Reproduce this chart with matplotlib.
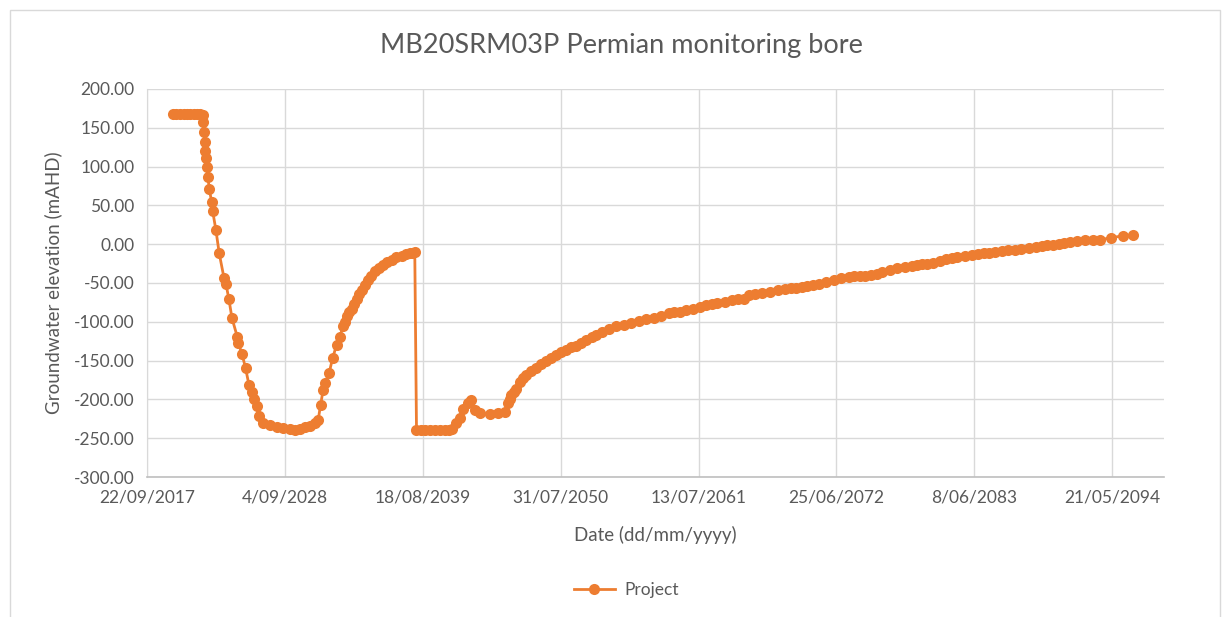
import matplotlib
matplotlib.use("Agg")
import matplotlib.pyplot as plt
import pandas as pd
from matplotlib.patches import Rectangle

# Modelled groundwater levels, dates as Excel serial day numbers
date_serial = [
    43754, 43850, 43957, 44060, 44159, 44260, 44362, 44450, 44536, 44623,
    44632, 44652, 44681, 44696, 44710, 44748, 44768, 44806, 44875, 44904,
    45000, 45096, 45232, 45290, 45377, 45464, 45617, 45646, 45754, 45861,
    45957, 46035, 46110, 46180, 46255, 46371, 46565, 46759, 46942, 47145,
    47290, 47435, 47580, 47725, 47870, 47965, 48035, 48110, 48160, 48284,
    48383, 48499, 48594, 48690, 48750, 48806, 48870, 48933, 49000, 49078,
    49150, 49223, 49320, 49415, 49500, 49609, 49720, 49849, 49970, 50093,
    50230, 50383, 50500, 50623, 50700, 50768, 50818, 50950, 51058, 51200,
    51348, 51500, 51638, 51750, 51841, 51977, 52073, 52168, 52313, 52412,
    52507, 52652, 52942, 53183, 53377, 53473, 53520, 53571, 53650, 53716,
    53812, 53900, 54006, 54150, 54296, 54440, 54586, 54730, 54876, 55020,
    55165, 55300, 55455, 55600, 55745, 55900, 56035, 56200, 56389, 56600,
    56823, 57040, 57261, 57480, 57696, 57910, 58131, 58290, 58455, 58650,
    58838, 59030, 59218, 59380, 59545, 59760, 59980, 60140, 60308, 60470,
    60632, 60850, 61067, 61290, 61505, 61670, 61829, 61990, 62157, 62320,
    62481, 62700, 62916, 63130, 63351, 63510, 63678, 63840, 64003, 64170,
    64331, 64550, 64766, 64980, 65200, 65340, 65473, 65640, 65800, 65990,
    66183, 66350, 66508, 66720, 66942, 67100, 67270, 67430, 67597, 67790,
    67980, 68170, 68360, 68580, 68795, 68960, 69122, 69290, 69450, 69610,
    69775, 69990, 70212, 70430, 70647, 70971, 71299, 71603,
]
elevation = [
    168, 168, 168, 168, 168, 168, 168, 168, 168, 167,
    158, 145, 132, 120, 111, 100, 87, 71, 55, 43,
    18, -12, -43, -51, -71, -95, -119, -127, -141, -160,
    -181, -190, -199, -209, -222, -231, -233, -235, -237, -238.5,
    -239, -238, -236, -234, -230, -227, -207, -188, -179, -166,
    -147, -130, -119, -106, -100, -93, -88, -83, -77, -70,
    -64, -59, -52, -46, -41, -35, -31, -27, -23, -20,
    -17, -15, -13, -12, -11, -10, -239, -239, -239, -239,
    -239, -239, -239, -239, -238, -231, -224, -212, -205, -201,
    -214, -218, -219, -218, -216, -205, -200, -194, -190, -186,
    -177, -173, -169, -164, -160, -155, -151, -147, -143, -139,
    -136, -133, -131, -127, -124, -120, -117, -113, -109, -106,
    -104, -101, -99, -97, -95, -92, -89, -88, -87, -85,
    -83, -81, -79, -77.5, -76, -74, -72, -71, -70, -66,
    -64, -62.5, -61, -59.5, -58, -57, -56, -55, -54, -52.5,
    -51, -48.5, -46, -44, -42, -41.5, -41, -40.5, -40, -38,
    -36, -33.5, -31, -29.5, -28, -27, -26, -25, -24, -21.5,
    -19, -17.5, -16, -15, -14, -13, -12, -11, -10, -9,
    -8, -7, -6, -4.5, -3, -2, -1, -0.5, 0, 1.5,
    3, 4, 5, 5.5, 6, 8, 11, 12,
]

tick_serial = [43000, 47000, 51000, 55000, 59000, 63000, 67000, 71000]
tick_labels = ['22/09/2017', '4/09/2028', '18/08/2039', '31/07/2050',
               '13/07/2061', '25/06/2072', '8/06/2083', '21/05/2094']
y_ticks = [200, 150, 100, 50, 0, -50, -100, -150, -200, -250, -300]


def to_date(serial):
    return pd.to_datetime(serial, unit='D', origin='1899-12-30')


plt.rcParams['font.family'] = ['Lato', 'DejaVu Sans']
text_grey = '#595959'
orange = '#ED7D31'

fig = plt.figure(figsize=(12.3, 6.17), dpi=100)
ax = fig.add_axes([0.1195, 0.2269, 0.8268, 0.6289])

# chart area border
fig.patches.append(Rectangle((10 / 1230, -0.05), 1210 / 1230, 1 - 10 / 617 + 0.05,
                             transform=fig.transFigure, fill=False,
                             edgecolor='#D9D9D9', linewidth=1.0))

ax.plot(to_date(date_serial), elevation, color=orange, linewidth=2.0,
        marker='o', markersize=8, markeredgewidth=0, label='Project')

ax.set_xlim(to_date(43000), to_date(72500))
ax.set_ylim(-300, 200)
ax.set_xticks(to_date(tick_serial))
ax.set_xticklabels(tick_labels)
ax.set_yticks(y_ticks)
ax.set_yticklabels([f"{v:.2f}" for v in y_ticks])

ax.grid(True, color='#D9D9D9', linewidth=1.0)
ax.set_axisbelow(True)
for side in ['top', 'right']:
    ax.spines[side].set_visible(False)
ax.spines['left'].set_color('#D9D9D9')
ax.spines['bottom'].set_color('#BFBFBF')
ax.spines['bottom'].set_linewidth(1.2)
ax.tick_params(length=0, labelsize=12.5, labelcolor=text_grey, pad=9)

# title and legend are centred on the whole chart, not on the plot area
fig.text(0.505, 0.927, 'MB20SRM03P Permian monitoring bore', fontsize=19.5,
         color=text_grey, ha='center', va='center')
ax.set_xlabel('Date (dd/mm/yyyy)', fontsize=13.5, color=text_grey, labelpad=15)
ax.set_ylabel('Groundwater elevation (mAHD)', fontsize=13.5, color=text_grey,
              labelpad=8)

fig.legend(loc='center', bbox_to_anchor=(0.509, 1 - 590 / 617), frameon=False,
           fontsize=12.5, labelcolor=text_grey, handlelength=2.4,
           handletextpad=0.5)

fig.savefig('out.png', dpi=100)
